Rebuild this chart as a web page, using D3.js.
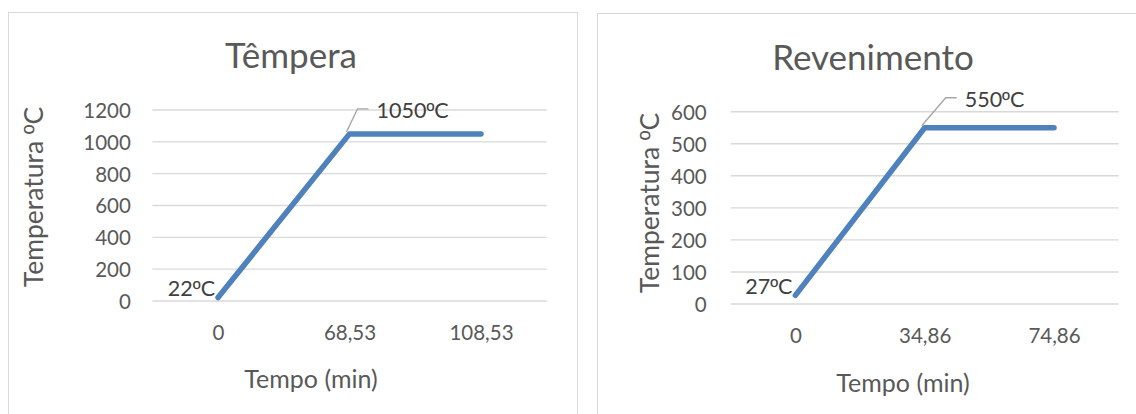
<!DOCTYPE html>
<html>
<head>
<meta charset="utf-8">
<script src="https://cdn.jsdelivr.net/npm/d3@7"></script>
<style>
  html, body { margin: 0; padding: 0; background: #fff; }
  svg { display: block; }
  text { font-family: Lato, "Open Sans", sans-serif; }
  .ord { font-family: "Liberation Sans", Arial, sans-serif; }
</style>
</head>
<body>
<svg id="chart" width="1136" height="414"></svg>
<script>
// Têmpera (quench) heating cycle
const temperaCategories = ["0", "68,53", "108,53"];
const temperaValues = [22, 1050, 1050];
const temperaTicks = [0, 200, 400, 600, 800, 1000, 1200];

// Revenimento (tempering) heating cycle
const revenimentoCategories = ["0", "34,86", "74,86"];
const revenimentoValues = [27, 550, 550];
const revenimentoTicks = [0, 100, 200, 300, 400, 500, 600];

const svg = d3.select("#chart");

// writes "<before>ºC" with the ordinal sign in a font that draws it underlined
function degreeText(sel, before) {
  sel.append("tspan").text(before);
  sel.append("tspan").attr("class", "ord").text("º");
  sel.append("tspan").text("C");
}

function drawPanel(opts) {
  const g = svg.append("g");

  // chart area border
  g.append("rect")
    .attr("x", opts.frame[0]).attr("y", opts.frame[1])
    .attr("width", opts.frame[2]).attr("height", opts.frame[3])
    .attr("fill", "#fff").attr("stroke", "#d9d9d9").attr("stroke-width", 1);

  const x = d3.scalePoint()
    .domain(opts.categories)
    .range([opts.plot.left, opts.plot.right])
    .padding(0.5);

  const yMax = opts.ticks[opts.ticks.length - 1];
  const y = d3.scaleLinear()
    .domain([0, yMax])
    .range([opts.plot.bottom, opts.plot.top]);

  // horizontal gridlines
  g.append("g").selectAll("line")
    .data(opts.ticks)
    .join("line")
    .attr("x1", opts.plot.left).attr("x2", opts.plot.right)
    .attr("y1", d => y(d)).attr("y2", d => y(d))
    .attr("stroke", "#d9d9d9").attr("stroke-width", 1.4);

  // y axis labels
  const yAxis = g.append("g")
    .attr("transform", `translate(${opts.plot.left - opts.yLabelGap},0)`)
    .call(d3.axisLeft(y).tickValues(opts.ticks).tickFormat(d3.format("d")).tickSize(0).tickPadding(0));
  yAxis.select(".domain").remove();
  yAxis.selectAll("text")
    .attr("fill", "#595959")
    .style("font-size", "20.5px")
    .style("font-family", "Lato, sans-serif")
    .attr("dy", "0.36em");

  // x axis labels
  const xAxis = g.append("g")
    .attr("transform", `translate(0,${opts.plot.bottom + opts.xLabelGap})`)
    .call(d3.axisBottom(x).tickSize(0).tickPadding(0));
  xAxis.select(".domain").remove();
  xAxis.selectAll("text")
    .attr("fill", "#595959")
    .style("font-size", "20.5px")
    .style("font-family", "Lato, sans-serif")
    .attr("dy", "0.71em");

  // series line
  const pts = opts.categories.map((c, i) => [x(c), y(opts.values[i])]);
  g.append("path")
    .attr("d", d3.line()(pts))
    .attr("fill", "none")
    .attr("stroke", "#4f81bd")
    .attr("stroke-width", 5.5)
    .attr("stroke-linecap", "round")
    .attr("stroke-linejoin", "round");

  // data label: first point (left of the point)
  g.append("text")
    .attr("x", pts[0][0] - 3)
    .attr("y", pts[0][1] - 1)
    .attr("text-anchor", "end")
    .attr("fill", "#404040")
    .style("font-size", "21.5px")
    .call(degreeText, `${opts.values[0]}`);

  // data label: plateau start, with leader line
  const [px, py] = pts[1];
  g.append("polyline")
    .attr("points", [[px - 3, py - 2], [px + opts.leader[0], py - opts.leader[1]], [px + opts.leader[0] + 11, py - opts.leader[1]]].map(p => p.join(",")).join(" "))
    .attr("fill", "none")
    .attr("stroke", "#a6a6a6")
    .attr("stroke-width", 1.3);
  g.append("text")
    .attr("x", px + opts.leader[0] + 19)
    .attr("y", py - opts.leader[1] + 9)
    .attr("fill", "#404040")
    .style("font-size", "21.5px")
    .call(degreeText, `${opts.values[1]}`);

  // chart title
  g.append("text")
    .attr("x", opts.titlePos[0]).attr("y", opts.titlePos[1])
    .attr("text-anchor", "middle")
    .attr("fill", "#595959")
    .style("font-size", "35px")
    .text(opts.title);

  // axis titles
  g.append("text")
    .attr("x", opts.xTitlePos[0]).attr("y", opts.xTitlePos[1])
    .attr("text-anchor", "middle")
    .attr("fill", "#595959")
    .style("font-size", "25px")
    .text("Tempo (min)");

  g.append("text")
    .attr("transform", `translate(${opts.yTitlePos[0]},${opts.yTitlePos[1]}) rotate(-90)`)
    .attr("text-anchor", "middle")
    .attr("fill", "#595959")
    .style("font-size", "26.5px")
    .call(degreeText, "Temperatura ");
}

drawPanel({
  frame: [8.5, 12.5, 569, 420],
  plot: { left: 152.3, right: 546.7, top: 110, bottom: 301 },
  categories: temperaCategories,
  values: temperaValues,
  ticks: temperaTicks,
  yLabelGap: 21.5,
  xLabelGap: 24,
  leader: [8, 25],
  title: "Têmpera",
  titlePos: [291, 68],
  xTitlePos: [311, 388],
  yTitlePos: [43, 197]
});

drawPanel({
  frame: [597.5, 13.5, 560, 420],
  plot: { left: 730.7, right: 1118.7, top: 111.7, bottom: 304 },
  categories: revenimentoCategories,
  values: revenimentoValues,
  ticks: revenimentoTicks,
  yLabelGap: 24,
  xLabelGap: 24,
  leader: [21, 30],
  title: "Revenimento",
  titlePos: [873, 70],
  xTitlePos: [903, 392],
  yTitlePos: [659, 203]
});
</script>
</body>
</html>
